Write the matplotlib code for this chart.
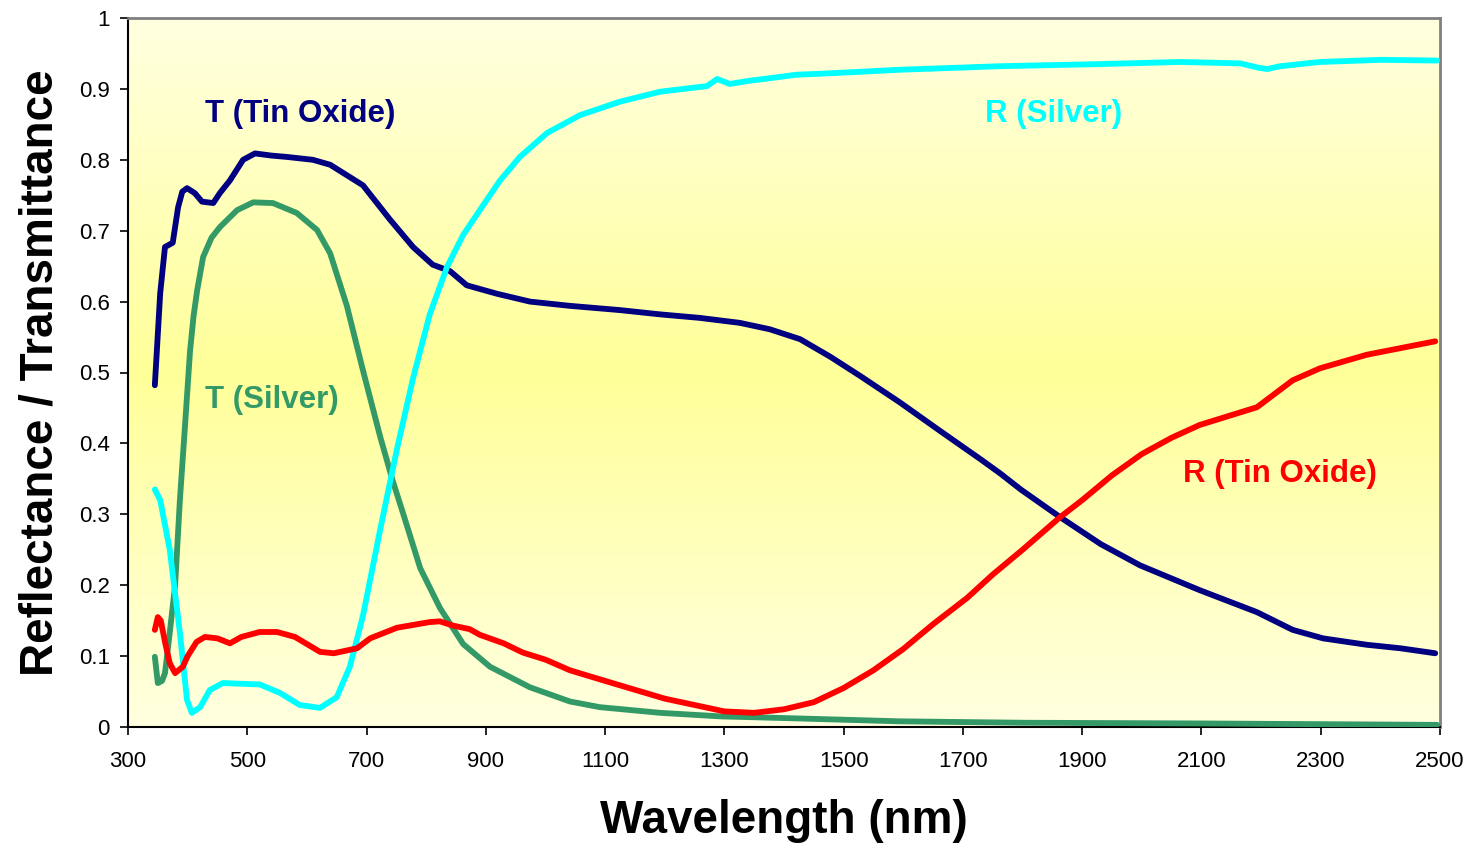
import matplotlib
matplotlib.use("Agg")
import matplotlib.pyplot as plt
import numpy as np
from matplotlib.colors import LinearSegmentedColormap

plt.rcParams['font.family'] = ['Liberation Sans', 'DejaVu Sans']

# T (Tin Oxide)
t_tin_x = [345, 354, 362, 375, 384, 391, 399, 412, 424, 443, 454, 471, 493, 513, 540, 567,
           610, 639, 694, 739, 778, 811, 840, 868, 919, 974, 1041, 1125, 1192, 1259,
           1326, 1376, 1427, 1478, 1528, 1594, 1661, 1729, 1762, 1797, 1863, 1931, 1997,
           2097, 2193, 2253, 2304, 2377, 2434, 2492]
t_tin_y = [0.482, 0.612, 0.677, 0.683, 0.733, 0.755, 0.76, 0.753, 0.741, 0.739, 0.753, 0.771,
           0.80, 0.809, 0.806, 0.804, 0.80, 0.793, 0.764, 0.716, 0.677, 0.652, 0.643, 0.623,
           0.611, 0.60, 0.594, 0.588, 0.582, 0.577, 0.570, 0.561, 0.547, 0.522, 0.495,
           0.458, 0.418, 0.378, 0.358, 0.335, 0.296, 0.258, 0.228, 0.193, 0.162, 0.137, 0.125,
           0.116, 0.111, 0.104]

# T (Silver)
t_ag_x = [345, 350, 357, 362, 370, 379, 387, 396, 404, 410, 416, 426, 440, 454, 483, 510,
          543, 583, 617, 639, 667, 694, 723, 744, 761, 790, 823, 862, 907, 974, 1041, 1091,
          1192, 1293, 1427, 1594, 1800, 2100, 2495]
t_ag_y = [0.099, 0.062, 0.065, 0.076, 0.133, 0.20, 0.32, 0.43, 0.53, 0.58, 0.616, 0.663,
          0.69, 0.705, 0.729, 0.74, 0.739, 0.725, 0.701, 0.668, 0.594, 0.503, 0.409, 0.347,
          0.302, 0.224, 0.168, 0.117, 0.085, 0.056, 0.036, 0.028, 0.02, 0.015, 0.012, 0.008,
          0.006, 0.005, 0.003]

# R (Silver)
r_ag_x = [345, 354, 370, 387, 399, 407, 421, 437, 459, 521, 555, 588, 622, 650, 672, 694,
          723, 751, 778, 806, 835, 862, 890, 924, 957, 1003, 1058, 1125, 1192, 1271, 1288,
          1309, 1338, 1421, 1477, 1594, 1762, 1930, 2064, 2165, 2195, 2210, 2232, 2299,
          2400, 2495]
r_ag_y = [0.335, 0.32, 0.25, 0.133, 0.038, 0.02, 0.028, 0.052, 0.062, 0.06, 0.048, 0.031,
          0.027, 0.042, 0.085, 0.157, 0.279, 0.392, 0.492, 0.582, 0.649, 0.694, 0.729, 0.771,
          0.804, 0.838, 0.863, 0.882, 0.896, 0.904, 0.914, 0.907, 0.911, 0.92, 0.922, 0.927,
          0.932, 0.935, 0.938, 0.936, 0.930, 0.928, 0.932, 0.938, 0.941, 0.94]

# R (Tin Oxide)
r_tin_x = [345, 350, 355, 362, 370, 379, 392, 400, 415, 429, 450, 471, 490, 521, 550, 580,
           622, 645, 684, 706, 751, 806, 823, 845, 873, 890, 930, 962, 1000, 1041, 1100,
           1200, 1300, 1350, 1400, 1450, 1500, 1550, 1600, 1650, 1707, 1750, 1800, 1863,
           1900, 1950, 2000, 2050, 2097, 2193, 2253, 2299, 2377, 2492]
r_tin_y = [0.137, 0.155, 0.15, 0.12, 0.09, 0.076, 0.085, 0.10, 0.12, 0.127, 0.125, 0.118,
           0.127, 0.134, 0.134, 0.127, 0.106, 0.104, 0.111, 0.125, 0.14, 0.148, 0.149, 0.143,
           0.138, 0.13, 0.118, 0.105, 0.095, 0.08, 0.065, 0.04, 0.022, 0.02, 0.025, 0.035,
           0.055, 0.08, 0.11, 0.145, 0.182, 0.215, 0.25, 0.296, 0.32, 0.355, 0.385, 0.408,
           0.426, 0.451, 0.489, 0.506, 0.525, 0.544]

fig = plt.figure(figsize=(14.7, 8.44), dpi=100)
ax = fig.add_axes([128 / 1470, 1 - 727 / 844, 1312 / 1470, 709 / 844])

# background gradient: pale at top and bottom, yellow in the middle
cmap = LinearSegmentedColormap.from_list("bg", ["#FFFFE0", "#FFFF99", "#FFFFE0"])
grad = np.linspace(0, 1, 256).reshape(-1, 1)
ax.imshow(grad, cmap=cmap, aspect='auto', extent=[0, 1, 0, 1],
          transform=ax.transAxes, zorder=0)

lw = 4.2
ax.plot(t_tin_x, t_tin_y, color='#000080', lw=lw, solid_capstyle='round', solid_joinstyle='round', zorder=3)
ax.plot(t_ag_x, t_ag_y, color='#339966', lw=lw, solid_capstyle='round', solid_joinstyle='round', zorder=3)
ax.plot(r_ag_x, r_ag_y, color='#00FFFF', lw=lw, solid_capstyle='round', solid_joinstyle='round', zorder=3)
ax.plot(r_tin_x, r_tin_y, color='#FF0000', lw=lw, solid_capstyle='round', solid_joinstyle='round', zorder=3)

lab_kw = dict(fontsize=22.5, fontweight='bold', va='center', ha='left')
ax.text(429, 0.865, 'T (Tin Oxide)', color='#000080', **lab_kw)
ax.text(1737, 0.865, 'R (Silver)', color='#00FFFF', **lab_kw)
ax.text(429, 0.461, 'T (Silver)', color='#339966', **lab_kw)
ax.text(2069, 0.357, 'R (Tin Oxide)', color='#FF0000', **lab_kw)

ax.set_xlim(300, 2500)
ax.set_ylim(0, 1)
ax.set_xticks(np.arange(300, 2501, 200))
ax.set_yticks(np.arange(0, 1.01, 0.1))
ax.set_yticklabels(['0', '0.1', '0.2', '0.3', '0.4', '0.5', '0.6', '0.7', '0.8', '0.9', '1'])
ax.tick_params(labelsize=16, length=6, width=1.2, direction='out')
ax.tick_params(axis='x', pad=11)
ax.tick_params(axis='y', pad=7)

for s in ['top', 'right']:
    ax.spines[s].set_color('#808080')
    ax.spines[s].set_linewidth(2)
for s in ['left', 'bottom']:
    ax.spines[s].set_color('black')
    ax.spines[s].set_linewidth(1.5)

ax.set_xlabel('Wavelength (nm)', fontsize=33, fontweight='bold', labelpad=20)
ax.set_ylabel('Reflectance / Transmittance', fontsize=33, fontweight='bold', labelpad=12)

fig.savefig('out.png', dpi=100)
